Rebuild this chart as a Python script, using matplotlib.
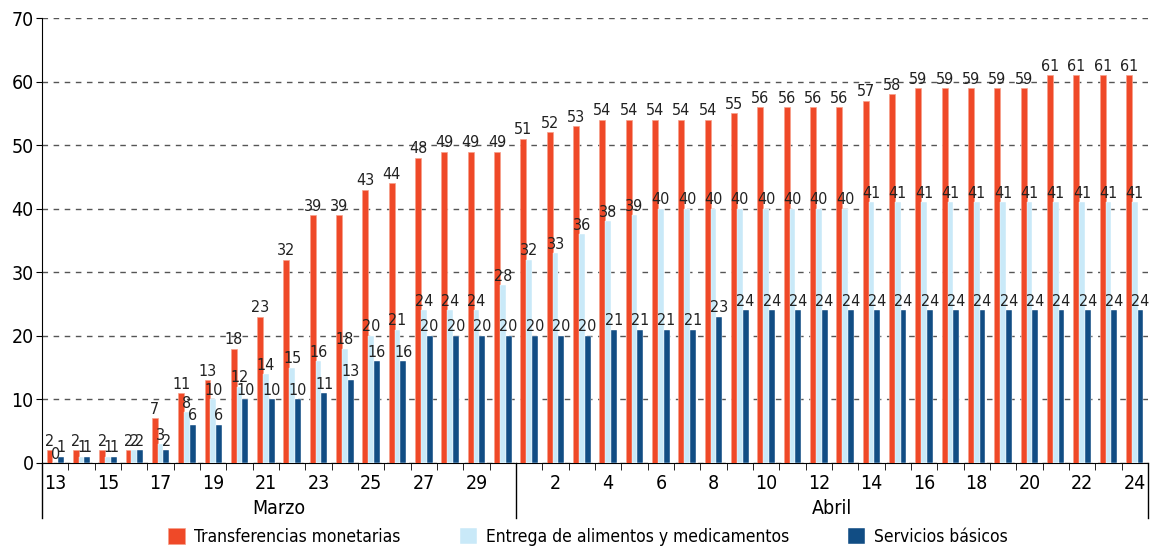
import numpy as np
import matplotlib
matplotlib.use('Agg')
from matplotlib import pyplot as plt

plt.rcParams['font.family'] = ['DejaVu Sans']
plt.rcParams['font.stretch'] = 'condensed'

# days: 13-30 marzo, 1-24 abril
days = list(range(13, 31)) + list(range(1, 25))
transferencias = [2, 2, 2, 2, 7, 11, 13, 18, 23, 32, 39, 39, 43, 44, 48, 49, 49, 49,
                  51, 52, 53, 54, 54, 54, 54, 54, 55, 56, 56, 56, 56, 57, 58,
                  59, 59, 59, 59, 59, 61, 61, 61, 61]
alimentos = [0, 1, 1, 2, 3, 8, 10, 12, 14, 15, 16, 18, 20, 21, 24, 24, 24, 28,
             32, 33, 36, 38, 39, 40, 40, 40, 40, 40, 40, 40, 40, 41, 41,
             41, 41, 41, 41, 41, 41, 41, 41, 41]
servicios = [1, 1, 1, 2, 2, 6, 6, 10, 10, 10, 11, 13, 16, 16, 20, 20, 20, 20,
             20, 20, 20, 21, 21, 21, 21, 23, 24, 24, 24, 24, 24, 24, 24,
             24, 24, 24, 24, 24, 24, 24, 24, 24]
n_marzo = 18

red = '#EF4928'
light = '#C9E9F8'
dark = '#114D84'

fig = plt.figure(figsize=(11.55, 5.47), dpi=100)
ax = fig.add_axes([0.0364, 0.1536, 0.9575, 0.8134])

x = np.arange(len(days))
w = 0.22
b1 = ax.bar(x - w, transferencias, w, color=red, edgecolor='#F7A08A', linewidth=0.5,
            label='Transferencias monetarias', zorder=3)
b2 = ax.bar(x, alimentos, w, color=light, edgecolor='white', linewidth=0.3,
            label='Entrega de alimentos y medicamentos', zorder=3)
b3 = ax.bar(x + w, servicios, w, color=dark, edgecolor='white', linewidth=0.3,
            label='Servicios básicos', zorder=3)
for b in (b1, b2, b3):
    ax.bar_label(b, padding=1, fontsize=11.5, color='#222222')

ax.set_xlim(-0.5, len(days) - 0.5)
ax.set_ylim(0, 70)
ax.set_yticks(range(0, 71, 10))
ax.yaxis.grid(True, linestyle=(0, (4, 4)), color='#555555', linewidth=1)
ax.set_axisbelow(True)
for s in ['top', 'right']:
    ax.spines[s].set_visible(False)
ax.spines['left'].set_color('black')
ax.spines['bottom'].set_color('black')
ax.tick_params(axis='y', labelsize=14, length=4, pad=2)

# labels every other day, ticks between groups
lab_idx = list(range(0, n_marzo, 2)) + list(range(n_marzo + 1, len(days), 2))
ax.set_xticks(lab_idx)
ax.set_xticklabels([str(days[i]) for i in lab_idx])
ax.tick_params(axis='x', labelsize=14, length=0, pad=8)
ax.set_xticks(np.arange(-0.5, len(days), 1), minor=True)
ax.tick_params(axis='x', which='minor', length=5, direction='out')

# month separators
for xs in (-0.5, n_marzo - 0.5, len(days) - 0.5):
    ax.plot([xs, xs], [0, -8.6], color='black', linewidth=1, clip_on=False, zorder=4)
ax.text((n_marzo - 1) / 2, -7.2, 'Marzo', ha='center', va='center', fontsize=14)
ax.text((n_marzo + len(days) - 1) / 2, -7.2, 'Abril', ha='center', va='center', fontsize=14)

fig.legend(loc='center', bbox_to_anchor=(0.509, 0.018), ncol=3, frameon=False,
           fontsize=12.5, handlelength=1.0, handleheight=1.0, columnspacing=3.4,
           handletextpad=0.5, borderpad=0.1)

plt.savefig('out.png', dpi=100)
